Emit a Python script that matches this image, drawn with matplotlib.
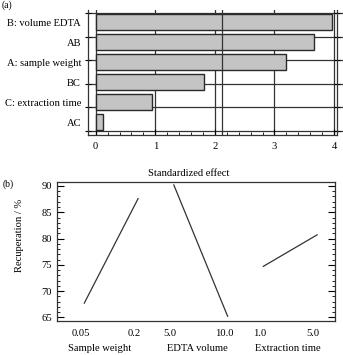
import matplotlib
matplotlib.use("Agg")
import matplotlib.pyplot as plt
import numpy as np

plt.rcParams['font.family'] = ['Liberation Serif', 'DejaVu Serif']
plt.rcParams['font.size'] = 7.6

# --- (a) Pareto des effets standardises ---
effect_labels = ["B: volume EDTA", "AB", "A: sample weight", "BC", "C: extraction time", "AC"]
effect_values = [3.97, 3.67, 3.19, 1.82, 0.95, 0.13]
ref_line = 2.12

# --- (b) Effets principaux ---
factor_names = ["Sample weight", "EDTA volume", "Extraction time"]
level_labels = [["0.05", "0.2"], ["5.0", "10.0"], ["1.0", "5.0"]]
recup_low = [67.7, 90.2, 74.7]
recup_high = [87.6, 65.2, 80.7]

fig = plt.figure(figsize=(3.43, 3.55), dpi=100)
W, H = 343.0, 355.0

def box(l, t, r, b):
    return [l / W, 1 - b / H, (r - l) / W, (b - t) / H]

# ---------- panel (a)
ax1 = fig.add_axes(box(88, 10, 337, 135))
ypos = np.arange(len(effect_values))
ax1.barh(ypos, effect_values, height=0.8, color='#c4c4c4', edgecolor='#2a2a2a',
         linewidth=1.0, zorder=3)
ax1.set_xlim(-0.13, 4.05)
ax1.set_ylim(5.635, -0.615)

# grille verticale + ligne de reference
for xv in range(0, 5):
    ax1.axvline(xv, color='#333333', lw=0.9, zorder=1)
ax1.axvline(ref_line, color='#333333', lw=0.9, zorder=4)
# grille horizontale (decalee des barres)
grid_y = -0.45 + 1.175 * np.arange(6)
for gy in grid_y:
    ax1.plot([-0.13, 4.13], [gy, gy], color='#333333', lw=0.9, zorder=1, clip_on=False)

ax1.set_yticks(ypos)
ax1.set_yticklabels(effect_labels)
ax1.tick_params(axis='y', which='major', length=0, pad=5)
ax1.set_yticks(grid_y, minor=True)
ax1.tick_params(axis='y', which='minor', length=4, direction='inout', left=True, right=True,
                width=0.8)
ax1.set_xticks([0, 1, 2, 3, 4])
ax1.set_xticks(np.arange(0, 4.01, 0.2), minor=True)
ax1.tick_params(axis='x', which='major', length=4, direction='in', pad=5)
ax1.tick_params(axis='x', which='minor', length=2.5, direction='in')
ax1.spines['top'].set_visible(False)
for s in ['left', 'bottom', 'right']:
    ax1.spines[s].set_color('#333333')
    ax1.spines[s].set_linewidth(0.9)

fig.text(189 / W, 1 - 173 / H, "Standardized effect", ha='center', va='center')
fig.text(2 / W, 1 - 5 / H, "(a)", ha='left', va='center', fontsize=7)

# ---------- panel (b)
ax2 = fig.add_axes(box(56.7, 182, 335, 320.7))
gap = 1.664
xpos = []
for i in range(len(factor_names)):
    x0 = i * gap
    ax2.plot([x0, x0 + 1], [recup_low[i], recup_high[i]], color='#333333', lw=0.9)
    xpos += [x0, x0 + 1]
ax2.set_xlim(-0.513, 4.66)
ax2.set_ylim(64.35, 90.76)
ax2.set_xticks(np.array(xpos) - 0.07)
ax2.set_xticklabels([l for pair in level_labels for l in pair])
ax2.tick_params(axis='x', length=0, pad=6)
ax2.set_yticks(np.arange(65, 91, 5))
ax2.set_yticks(np.arange(65, 91, 1), minor=True)
ax2.tick_params(axis='y', which='major', direction='in', length=5, left=True, right=True, width=0.8)
ax2.tick_params(axis='y', which='minor', direction='in', length=2.5, left=True, right=True, width=0.6)
for s in ax2.spines.values():
    s.set_color('#333333')
    s.set_linewidth(0.9)

group_x = [0.29, 2.1, 3.79]
for gx, name in zip(group_x, factor_names):
    ax2.text(gx, -0.2, name, transform=ax2.get_xaxis_transform(), ha='center', va='center')

fig.text(20 / W, 1 - 235 / H, "Recuperation / %", rotation=90, ha='center', va='center')
fig.text(3 / W, 1 - 184 / H, "(b)", ha='left', va='center', fontsize=7)

fig.savefig("out.png", dpi=100)
